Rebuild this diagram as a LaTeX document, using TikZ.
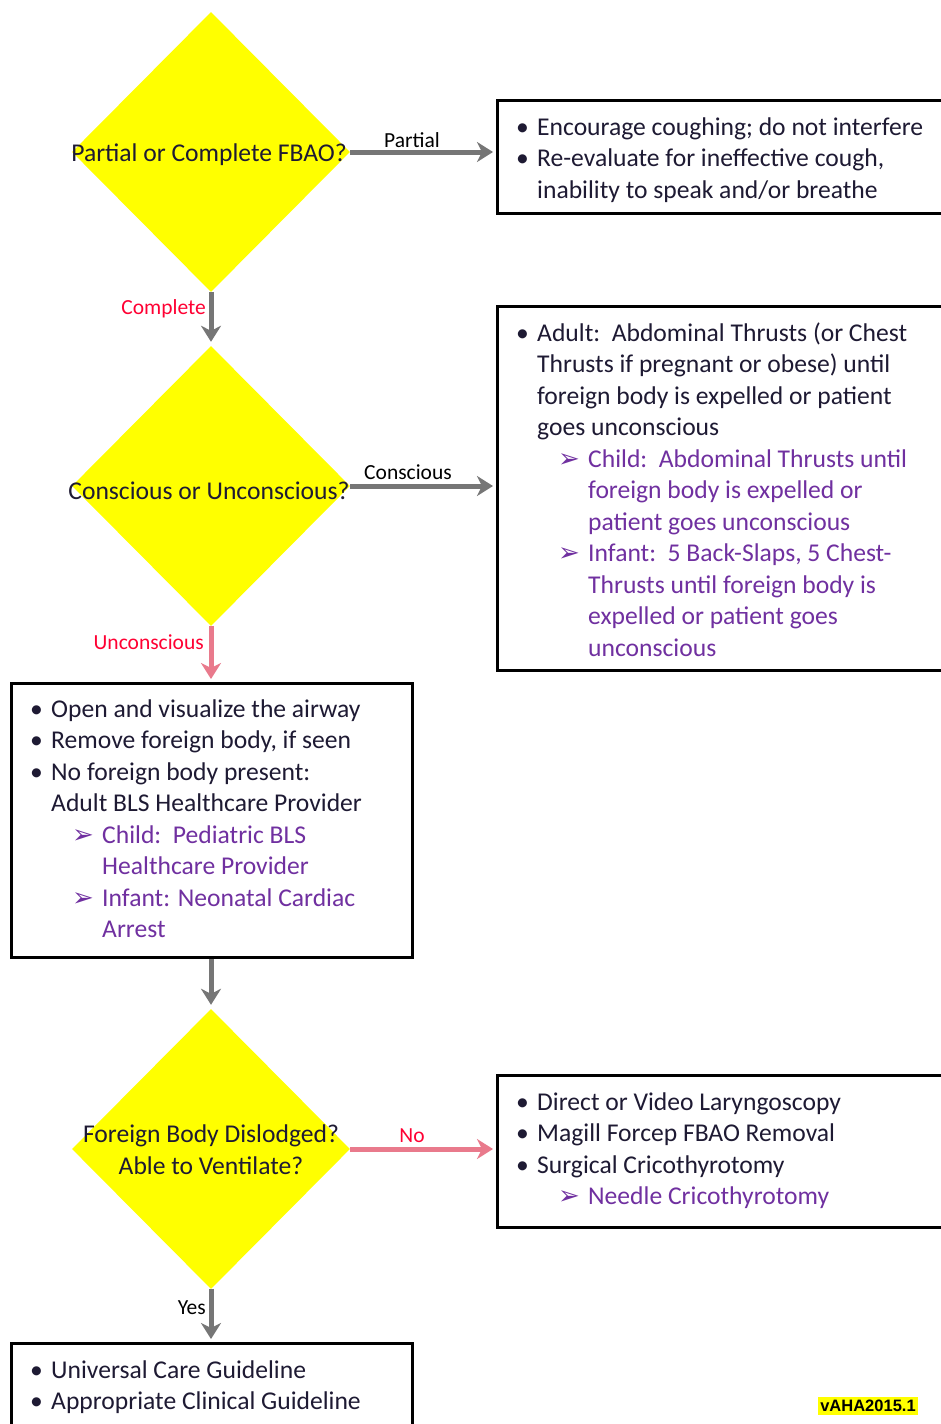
\documentclass[tikz,border=0pt]{standalone}
\usepackage{fontspec}
\setmainfont{Carlito}
\newfontfamily\dejavu{DejaVu Sans}
\newfontfamily\arialf{Liberation Sans}
\usetikzlibrary{shapes.geometric,arrows.meta}
\definecolor{dyellow}{HTML}{FFFF00}
\definecolor{fbpurple}{HTML}{7030A0}
\definecolor{fbred}{HTML}{FF0033}
\definecolor{fbpink}{HTML}{E97A8C}
\definecolor{fbgray}{HTML}{767676}
\definecolor{fbdark}{HTML}{1E1A33}
\newcommand\fbB[1]{\hbox{\hbox to 21pt{\textbullet\hss}#1}}
\newcommand\fbC[1]{\hbox{\hskip21pt #1}}
\newcommand\fbS[1]{\hbox{\hskip42pt\hbox to 30pt{\color{fbpurple}\dejavu\fontsize{26}{26}\selectfont ➢\hss}\color{fbpurple}#1}}
\newcommand\fbT[1]{\hbox{\hskip72pt\color{fbpurple}#1}}
\tikzset{
  diam/.style={diamond, fill=dyellow, draw=none, inner sep=0pt, minimum width=278pt, minimum height=280pt},
  dtext/.style={inner sep=0pt, font=\fontsize{25.6}{32}\selectfont, align=center, text=fbdark},
  fbbox/.style={draw=black, line width=3pt, inner sep=0pt, anchor=north west},
  btext/.style={inner sep=0pt, anchor=base west, font=\fontsize{25.6}{31.5}\selectfont, text=fbdark},
  elabel/.style={inner sep=0pt, font=\fontsize{21.5}{24}\selectfont},
  garrow/.style={draw=fbgray, line width=5pt, -{Stealth[length=16pt,width=20pt,inset=5pt]}},
  parrow/.style={draw=fbpink, line width=5pt, -{Stealth[length=16pt,width=20pt,inset=5pt]}},
}
\begin{document}
\begin{tikzpicture}[x=1pt,y=-1pt]
\useasboundingbox[fill=white] (0,0) rectangle (940,1424);

% decision diamonds
\node[diam] (d1) at (211,152) {};
\node[diam] (d2) at (211,486) {};
\node[diam] (d3) at (211,1149) {};
\node[dtext] (t1) at (209,155) {Partial or Complete FBAO?};
\node[dtext] (t2) at (209,491) {Conscious or Unconscious?};
\node[dtext] (t3) at (211,1150) {Foreign Body Dislodged?\\Able to Ventilate?};

% boxes
\node[fbbox, minimum width=470pt, minimum height=113pt] (b1) at (496,99) {};
\node[fbbox, minimum width=470pt, minimum height=364pt] (b2) at (496,305) {};
\node[fbbox, minimum width=401pt, minimum height=274pt] (b3) at (10,682) {};
\node[fbbox, minimum width=470pt, minimum height=152pt] (b4) at (496,1074) {};
\node[fbbox, minimum width=401pt, minimum height=120pt] (b5) at (10,1342) {};

% box texts
\node[btext] (x1) at (516,135) {\vtop{%
\fbB{Encourage coughing; do not interfere}
\fbB{Re-evaluate for ineffective cough,}
\fbC{inability to speak and/or breathe}}};
\node[btext] (x2) at (516,341) {\vtop{%
\fbB{Adult:\ \ Abdominal Thrusts (or Chest}
\fbC{Thrusts if pregnant or obese) until}
\fbC{foreign body is expelled or patient}
\fbC{goes unconscious}
\fbS{Child:\ \ Abdominal Thrusts until}
\fbT{foreign body is expelled or}
\fbT{patient goes unconscious}
\fbS{Infant:\ \ 5 Back-Slaps, 5 Chest-}
\fbT{Thrusts until foreign body is}
\fbT{expelled or patient goes}
\fbT{unconscious}}};
\node[btext] (x3) at (30,717) {\vtop{%
\fbB{Open and visualize the airway}
\fbB{Remove foreign body, if seen}
\fbB{No foreign body present:}
\fbC{Adult BLS Healthcare Provider}
\fbS{Child:\ \ Pediatric BLS}
\fbT{Healthcare Provider}
\fbS{Infant: Neonatal Cardiac}
\fbT{Arrest}}};
\node[btext] (x4) at (516,1110) {\vtop{%
\fbB{Direct or Video Laryngoscopy}
\fbB{Magill Forcep FBAO Removal}
\fbB{Surgical Cricothyrotomy}
\fbS{Needle Cricothyrotomy}}};
\node[btext] (x5) at (30,1378) {\vtop{%
\fbB{Universal Care Guideline}
\fbB{Appropriate Clinical Guideline}}};

% connectors
\draw[garrow, shorten >=3pt] (d1.east) -- (d1.east -| b1.west);
\draw[garrow, shorten >=4pt] (d1.south) -- (d2.north);
\draw[garrow, shorten >=3pt] (d2.east) -- (d2.east -| b2.west);
\draw[parrow, shorten >=3pt] (d2.south) -- (d2.south |- b3.north);
\draw[garrow, shorten >=4pt] (b3.south -| d3.north) -- (d3.north);
\draw[parrow, shorten >=3pt] (d3.east) -- (d3.east -| b4.west);
\draw[garrow, shorten >=3pt] (d3.south) -- (d3.south |- b5.north);

% connector labels
\node[elabel, anchor=base] (l1) at (412,147) {Partial};
\node[elabel, anchor=base east, text=fbred] (l2) at (206,314) {Complete};
\node[elabel, anchor=base] (l3) at (408,479) {Conscious};
\node[elabel, anchor=base east, text=fbred] (l4) at (204,649) {Unconscious};
\node[elabel, anchor=base, text=fbred] (l5) at (412,1142) {No};
\node[elabel, anchor=base east] (l6) at (206,1314) {Yes};

% version tag
\node[fill=dyellow, inner xsep=2pt, inner ysep=3pt, font=\arialf\bfseries\fontsize{16.5}{18}\selectfont] (v) at (868,1406) {vAHA2015.1};
\end{tikzpicture}
\end{document}
